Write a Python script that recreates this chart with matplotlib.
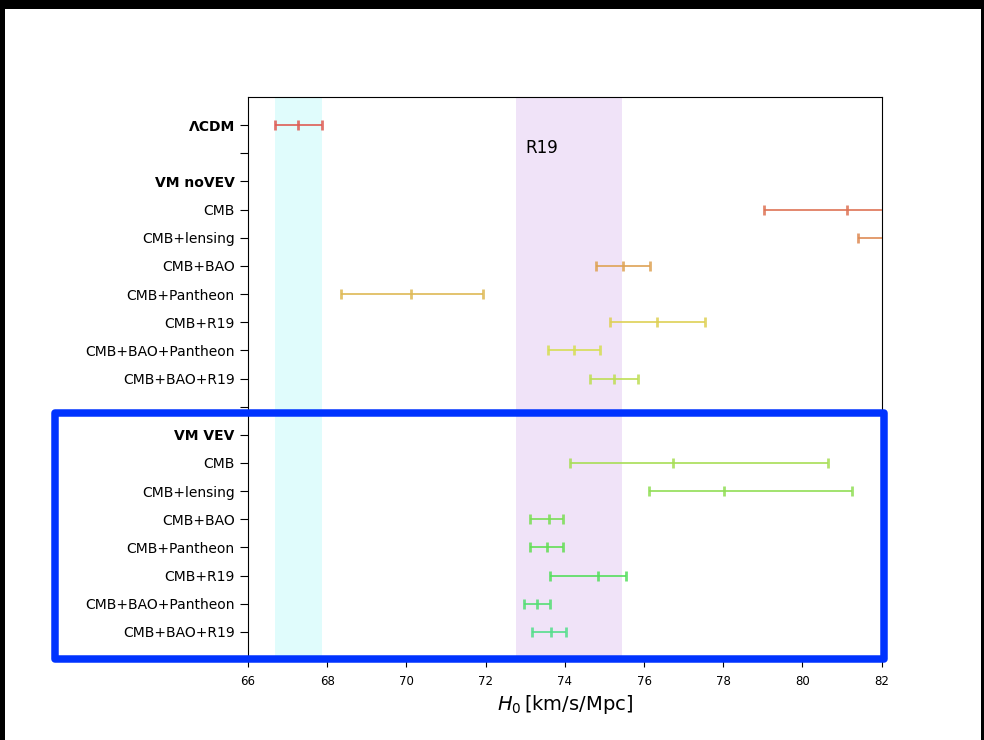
import matplotlib
matplotlib.use("Agg")
import matplotlib.pyplot as plt
import matplotlib.patches as mpatches
import colorsys
import numpy as np

# ---- data ----
labels = ["ΛCDM", "", "VM noVEV",
          "CMB", "CMB+lensing", "CMB+BAO", "CMB+Pantheon", "CMB+R19",
          "CMB+BAO+Pantheon", "CMB+BAO+R19", "", "VM VEV",
          "CMB", "CMB+lensing", "CMB+BAO", "CMB+Pantheon", "CMB+R19",
          "CMB+BAO+Pantheon", "CMB+BAO+R19"]
bold_labels = ["ΛCDM", "VM noVEV", "VM VEV"]

# rows that carry a measurement (index into labels)
rows = [0, 3, 4, 5, 6, 7, 8, 9, 12, 13, 14, 15, 16, 17, 18]
h0 = [67.27, 81.13, 83.5, 75.47, 70.12, 76.32, 74.23, 75.25,
      76.73, 78.03, 73.60, 73.55, 74.83, 73.29, 73.65]
err_lo = [0.60, 2.10, 2.10, 0.69, 1.78, 1.19, 0.65, 0.61,
          2.60, 1.90, 0.49, 0.42, 1.20, 0.33, 0.48]
err_hi = [0.60, 2.10, 2.10, 0.68, 1.81, 1.21, 0.67, 0.60,
          3.91, 3.21, 0.35, 0.40, 0.71, 0.33, 0.38]

planck_band = (66.67, 67.88)
r19_band = (72.76, 75.44)

# ---- figure ----
fig = plt.figure(figsize=(9.84, 7.40), dpi=100)
ax = fig.add_axes([0.252, 0.108, 0.644, 0.761])

ax.axvspan(*planck_band, color="#e0fcfc", zorder=0, lw=0)
ax.axvspan(*r19_band, color="#f0e3f8", zorder=0, lw=0)

n = len(rows)
for i, (r, v, lo, hi) in enumerate(zip(rows, h0, err_lo, err_hi)):
    hue = 0.01 + 0.39 * i / (n - 1)
    col = colorsys.hls_to_rgb(hue, 0.6, 0.68)
    ax.errorbar([v], [r], xerr=[[lo], [hi]], fmt="|", color=col,
                ecolor=col, elinewidth=1.4, capsize=3.4, capthick=2,
                markersize=6.8, markeredgewidth=2, alpha=0.85, zorder=3)

ax.text(73.0, 0.8, "R19", fontsize=12, va="center", ha="left")

ax.set_xlim(66, 82)
ax.set_ylim(19, -1)
ax.set_xticks(np.arange(66, 83, 2))
ax.tick_params(axis="x", labelsize=8.5, length=5, pad=6)
ax.set_yticks(range(len(labels)))
ax.set_yticklabels(labels, fontsize=10)
ax.tick_params(axis="y", length=6)
for t in ax.get_yticklabels():
    if t.get_text() in bold_labels:
        t.set_fontweight("bold")
ax.set_xlabel(r"$H_0\,$[km/s/Mpc]", fontsize=14, labelpad=3)

# blue highlight frame
x0, x1 = 55 / 984, 883.5 / 984
y0, y1 = 1 - 659 / 740, 1 - 413 / 740
fig.patches.append(mpatches.Rectangle((x0, y0), x1 - x0, y1 - y0,
                                      transform=fig.transFigure, fill=False,
                                      edgecolor="#0033ff", lw=5.4,
                                      joinstyle="round", zorder=10))

# black screenshot borders
for (bx, by, bw, bh) in [(0, 1 - 9 / 740, 1, 9 / 740),
                         (0, 0, 5 / 984, 1),
                         (981 / 984, 0, 3 / 984, 1)]:
    fig.patches.append(mpatches.Rectangle((bx, by), bw, bh,
                                          transform=fig.transFigure,
                                          color="black", lw=0, zorder=11))

fig.savefig("out.png", dpi=100)
